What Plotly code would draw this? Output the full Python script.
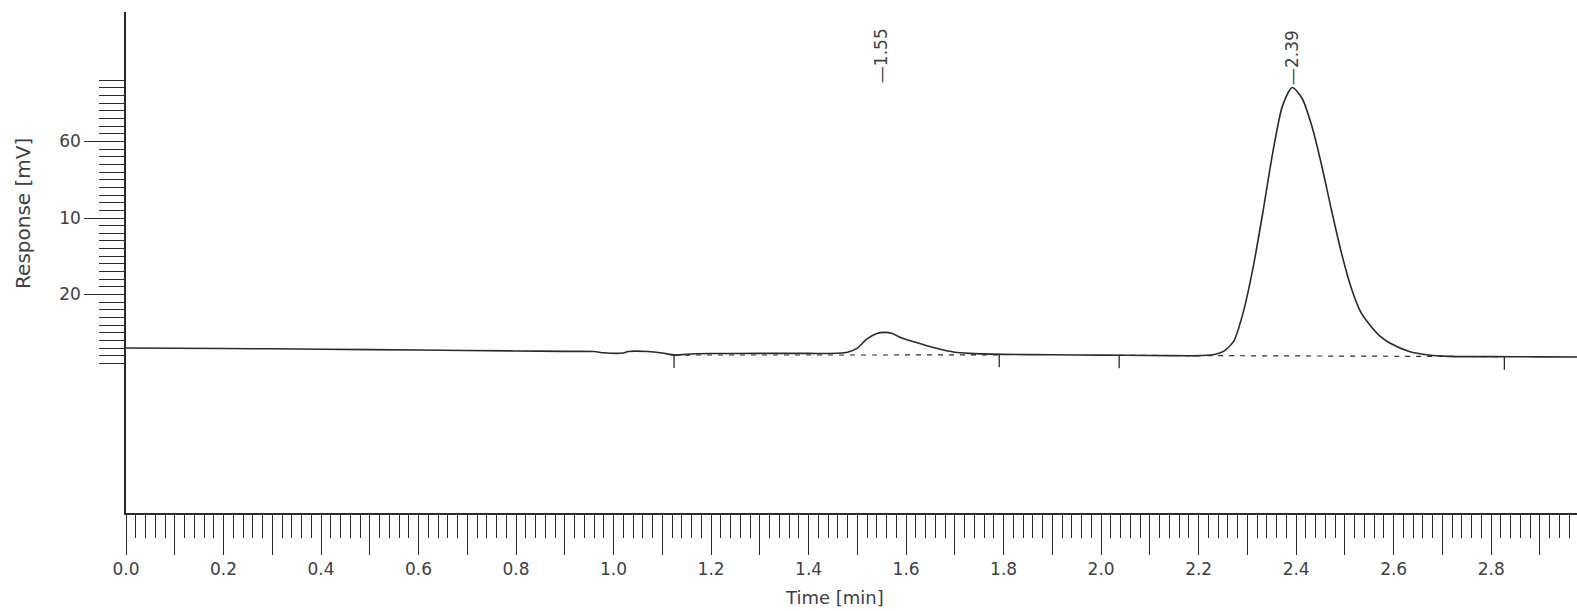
import plotly.graph_objects as go

# ---- data ----
time_min = [0.00, 0.20, 0.40, 0.60, 0.80, 0.90, 0.96, 0.98, 1.02, 1.03, 1.07, 1.10, 1.125, 1.15,
            1.20, 1.30, 1.40, 1.46, 1.48, 1.50, 1.52, 1.54, 1.555, 1.57, 1.59, 1.625, 1.66, 1.70,
            1.73, 1.80, 1.90, 2.00, 2.10, 2.18, 2.192, 2.232, 2.252, 2.272, 2.292, 2.312, 2.332,
            2.352, 2.372, 2.392, 2.412, 2.432, 2.452, 2.472, 2.492, 2.512, 2.532, 2.552, 2.572,
            2.592, 2.632, 2.672, 2.712, 2.80, 2.90, 2.976]
response_mv = [3.00, 2.95, 2.85, 2.75, 2.62, 2.57, 2.55, 2.38, 2.36, 2.56, 2.55, 2.35, 2.08, 2.20,
               2.28, 2.30, 2.30, 2.32, 2.45, 3.00, 4.20, 4.90, 5.05, 4.95, 4.35, 3.65, 3.00, 2.45,
               2.30, 2.18, 2.12, 2.08, 2.03, 2.00, 1.98, 2.15, 2.60, 3.90, 7.80, 13.64, 20.86,
               28.56, 34.66, 37.06, 35.66, 32.06, 26.96, 21.16, 15.66, 11.06, 7.76, 5.96, 4.56,
               3.66, 2.56, 2.10, 1.92, 1.88, 1.85, 1.83]

peak_times = [1.55, 2.39]
peak_labels = ["\u20141.55", "\u20142.39"]
peak_label_y = [37.4, 37.1]

# integration baselines (start/end of each peak)
base_t = [[1.124, 1.791], [2.037, 2.827]]
base_v = [[2.09, 2.10], [2.05, 1.88]]
marker_t = [1.124, 1.791, 2.037, 2.827]
marker_v = [2.08, 2.18, 2.07, 1.88]
marker_len = 1.7

y_tickvals = [5, 10, 15, 20, 25, 30, 35]
y_ticktext = ["", "20", "", "10", "", "60", ""]
y_minor = list(range(1, 39))
x_tickvals = [round(i * 0.1, 1) for i in range(30)]
x_ticktext = [f"{v:.1f}" if i % 2 == 0 else "" for i, v in enumerate(x_tickvals)]

INK = "#2a2a2a"
TXT = "#404040"
FONT = "DejaVu Sans, Liberation Sans, sans-serif"

fig = go.Figure()
fig.add_trace(go.Scatter(x=time_min, y=response_mv, mode="lines",
                         line=dict(color=INK, width=1.6, shape="spline", smoothing=0.7),
                         hoverinfo="skip", showlegend=False))
for bt, bv in zip(base_t, base_v):
    fig.add_trace(go.Scatter(x=bt, y=bv, mode="lines",
                             line=dict(color=INK, width=1.2, dash="5px,6px"),
                             hoverinfo="skip", showlegend=False))
mx, my = [], []
for t, v in zip(marker_t, marker_v):
    mx += [t, t, None]
    my += [v, v - marker_len, None]
fig.add_trace(go.Scatter(x=mx, y=my, mode="lines", line=dict(color=INK, width=1.3),
                         hoverinfo="skip", showlegend=False))

for t, lab, yv in zip(peak_times, peak_labels, peak_label_y):
    fig.add_annotation(x=t, y=yv, text=lab, textangle=-90, showarrow=False,
                       xanchor="center", yanchor="bottom",
                       font=dict(family=FONT, size=17, color=TXT))

fig.add_annotation(xref="paper", yref="paper", x=-0.071, y=0.599, text="Response [mV]",
                   textangle=-90, showarrow=False, xanchor="center", yanchor="middle",
                   font=dict(family=FONT, size=20, color=TXT))
fig.add_annotation(xref="paper", yref="paper", x=0.4886, y=-0.1677, text="Time [min]",
                   showarrow=False, xanchor="center", yanchor="middle",
                   font=dict(family=FONT, size=18, color=TXT))

fig.update_layout(
    width=1577, height=611,
    margin=dict(l=126, r=0, t=12, b=98),
    paper_bgcolor="white", plot_bgcolor="white",
    font=dict(family=FONT, size=17, color=TXT),
    xaxis=dict(range=[0, 2.976], showgrid=False, zeroline=False, showline=True,
               linecolor=INK, linewidth=1.6, ticks="outside", ticklen=40, tickwidth=1.3,
               tickcolor=INK, tickmode="array", tickvals=x_tickvals, ticktext=x_ticktext,
               tickfont=dict(family=FONT, size=17, color=TXT),
               minor=dict(dtick=0.02, tick0=0, ticks="outside", ticklen=23,
                          tickwidth=1.3, tickcolor=INK, showgrid=False)),
    yaxis=dict(range=[-18.56, 46.93], showgrid=False, zeroline=False, showline=True,
               linecolor=INK, linewidth=1.6, ticks="outside", ticklen=40, tickwidth=1.3,
               tickcolor=INK, tickmode="array", tickvals=y_tickvals, ticktext=y_ticktext,
               tickfont=dict(family=FONT, size=17, color=TXT),
               minor=dict(tickmode="array", tickvals=y_minor, ticks="outside", ticklen=25,
                          tickwidth=1.3, tickcolor=INK, showgrid=False)),
)

fig.write_html("out.html")
